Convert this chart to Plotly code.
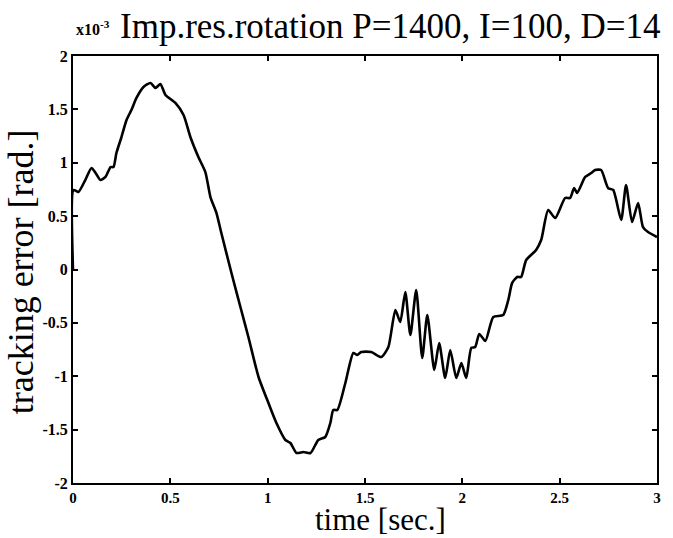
import plotly.graph_objects as go

# time [s]
time_s = [0.0, 0.003, 0.028, 0.063, 0.095, 0.116, 0.141, 0.167, 0.193, 0.208, 0.223, 0.249, 0.275,
          0.300, 0.326, 0.362, 0.398, 0.424, 0.449, 0.475, 0.526, 0.568, 0.603, 0.644, 0.680,
          0.706, 0.737, 0.762, 0.814, 0.860, 0.901, 0.953, 1.004, 1.045, 1.091, 1.117, 1.148,
          1.184, 1.220, 1.260, 1.296, 1.322, 1.337, 1.358, 1.399, 1.440, 1.460, 1.481, 1.532,
          1.584, 1.620, 1.656, 1.681, 1.707, 1.733, 1.763, 1.794, 1.820, 1.856, 1.881, 1.912,
          1.938, 1.969, 1.995, 2.020, 2.046, 2.066, 2.087, 2.118, 2.159, 2.210, 2.236, 2.256,
          2.282, 2.302, 2.328, 2.379, 2.405, 2.441, 2.477, 2.528, 2.554, 2.574, 2.590, 2.631,
          2.662, 2.682, 2.713, 2.749, 2.775, 2.816, 2.841, 2.872, 2.903, 2.928, 2.954, 3.0]
# tracking error [x1e-3 rad]
error_e3 = [0.0, 0.745, 0.726, 0.838, 0.951, 0.904, 0.838, 0.867, 0.960, 0.960, 1.091, 1.241, 1.40,
            1.494, 1.607, 1.710, 1.747, 1.700, 1.738, 1.635, 1.560, 1.447, 1.241, 1.054, 0.913,
            0.679, 0.529, 0.342, -0.033, -0.351, -0.632, -1.007, -1.251, -1.438, -1.597, -1.625, -1.719,
            -1.710, -1.719, -1.597, -1.569, -1.438, -1.316, -1.316, -1.063, -0.782, -0.801, -0.773, -0.773,
            -0.820, -0.726, -0.379, -0.492, -0.211, -0.614, -0.192, -0.829, -0.426, -0.941, -0.689, -1.016,
            -0.754, -1.016, -0.876, -1.016, -0.735, -0.726, -0.604, -0.670, -0.445, -0.426, -0.286, -0.126,
            -0.070, -0.070, 0.089, 0.183, 0.276, 0.557, 0.482, 0.670, 0.670, 0.763, 0.717, 0.867,
            0.904, 0.932, 0.932, 0.763, 0.745, 0.464, 0.792, 0.445, 0.623, 0.398, 0.351, 0.304]

x_ticks = [0, 0.5, 1, 1.5, 2, 2.5, 3]
x_tick_labels = ["0", "0.5", "1", "1.5", "2", "2.5", "3"]
y_ticks = [-2, -1.5, -1, -0.5, 0, 0.5, 1, 1.5, 2]
y_tick_labels = ["-2", "-1.5", "-1", "-0.5", "0", "0.5", "1", "1.5", "2"]

SERIF = "Liberation Serif"

fig = go.Figure()
fig.add_trace(go.Scatter(x=time_s, y=error_e3, mode="lines",
                         line=dict(color="black", width=2.6, shape="spline", smoothing=0.6),
                         hoverinfo="skip", showlegend=False))

axis_common = dict(showline=True, linecolor="black", linewidth=2, mirror="ticks",
                   ticks="inside", ticklen=5, tickwidth=1.5, tickcolor="black",
                   showgrid=False, zeroline=False)

fig.update_xaxes(range=[0, 3], tickvals=x_ticks, ticktext=x_tick_labels,
                 tickfont=dict(family=SERIF, size=15, color="black", weight="bold"), **axis_common)
fig.update_yaxes(range=[-2, 2], tickvals=y_ticks, ticktext=y_tick_labels,
                 tickfont=dict(family=SERIF, size=16, color="black", weight="bold"), **axis_common)

fig.update_layout(
    width=673, height=538,
    margin=dict(l=73, r=13, t=56, b=55),
    paper_bgcolor="white", plot_bgcolor="white",
    annotations=[
        dict(text="Imp.res.rotation P=1400, I=100, D=14", xref="paper", yref="paper",
             x=0.542, y=1.070, showarrow=False, xanchor="center", yanchor="middle",
             font=dict(family=SERIF, size=35, color="black")),
        dict(text="x10<sup>-3</sup>", xref="paper", yref="paper",
             x=0.034, y=1.066, showarrow=False, xanchor="center", yanchor="middle",
             font=dict(family=SERIF, size=16, color="black", weight="bold")),
        dict(text="tracking error [rad.]", xref="paper", yref="paper",
             x=-0.0886, y=0.494, showarrow=False, xanchor="center", yanchor="middle",
             textangle=-90, font=dict(family=SERIF, size=36, color="black")),
        dict(text="time [sec.]", xref="paper", yref="paper",
             x=0.526, y=-0.1288, showarrow=False, xanchor="center", yanchor="bottom",
             borderpad=0, font=dict(family=SERIF, size=31, color="black")),
    ],
)

fig.write_html("out.html")
